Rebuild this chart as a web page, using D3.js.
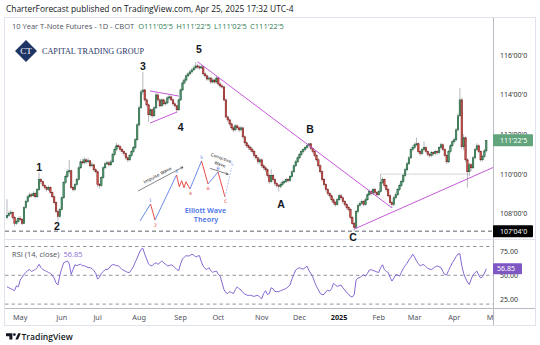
<!DOCTYPE html>
<html>
<head>
<meta charset="utf-8">
<script src="https://cdn.jsdelivr.net/npm/d3@7"></script>
<style>
  html, body { margin: 0; padding: 0; background: #ffffff; }
  svg { display: block; }
</style>
</head>
<body>
<svg id="chart" width="540" height="345"></svg>
<script>
// 10 Year T-Note Futures, daily bars, 22 Apr 2024 - 25 Apr 2025
const open = [
  107.81,107.91,108.01,108.06,107.81,107.51,107.61,107.76,107.71,107.51,
  108.31,108.61,108.86,108.96,108.91,109.02,108.86,109.22,109.72,109.62,
  109.42,109.32,109.22,109.32,109.07,108.86,108.56,108.11,107.86,108.21,
  108.81,109.57,109.87,110.12,110.17,109.32,109.22,109.47,109.72,110.32,
  110.62,110.57,110.72,110.62,110.67,110.42,110.47,110.22,110.12,109.47,
  109.42,109.82,110.32,110.52,110.57,110.47,110.62,110.98,111.23,111.43,
  111.38,111.23,111.13,111.03,110.82,110.72,110.93,111.13,111.33,111.73,
  112.48,113.34,114.14,114.24,113.74,113.49,112.99,113.24,112.94,113.34,
  113.99,113.74,113.44,113.74,113.54,113.59,113.84,113.89,113.74,113.54,
  113.44,113.24,113.74,114.24,114.59,114.74,114.95,115.05,115.15,115.25,
  115.35,115.45,115.40,115.35,115.40,115.05,114.95,114.79,114.84,114.64,
  114.74,114.64,114.84,114.54,114.44,114.39,113.74,112.88,112.73,112.53,
  112.33,112.23,112.43,112.33,112.23,112.33,111.88,111.58,111.43,111.33,
  111.23,111.13,110.93,110.82,110.62,110.72,110.42,110.32,110.22,109.92,
  109.62,109.92,109.72,109.52,109.42,109.37,109.47,109.57,109.62,109.72,
  109.67,109.87,110.12,110.42,110.62,110.82,110.98,111.13,111.23,111.33,
  111.43,111.53,111.28,111.13,110.93,110.72,110.42,110.12,109.72,109.47,
  109.22,109.02,108.91,108.71,108.56,108.46,108.71,108.91,108.81,108.61,
  108.46,108.31,108.21,107.81,107.51,107.31,108.11,108.41,108.51,108.61,
  108.46,108.71,108.96,109.12,109.02,109.22,109.07,108.96,109.12,109.57,
  109.72,109.42,109.22,108.91,108.56,108.46,108.81,108.96,109.22,109.42,
  109.62,109.92,110.22,110.52,110.82,111.23,111.33,111.48,111.53,111.13,
  111.03,111.23,111.33,111.13,110.98,110.93,111.08,111.03,111.13,111.08,
  111.33,111.48,111.23,110.93,110.62,111.13,111.43,111.63,111.73,112.23,
  112.94,113.74,111.38,111.83,110.72,110.12,110.47,110.32,110.82,111.23,
  111.43,111.13,110.72,110.88,111.171875
];
const high = [
  108.74,108.14,108.20,108.12,107.88,107.72,107.85,107.90,107.78,108.38,
  108.70,108.95,109.08,109.05,109.14,109.10,109.30,110.07,109.80,109.68,
  109.50,109.40,109.42,109.38,109.12,108.92,108.62,108.20,108.30,108.88,
  109.65,109.98,110.25,110.72,110.22,109.40,109.55,109.82,110.40,110.75,
  110.78,110.85,110.80,110.82,110.72,110.60,110.52,110.30,110.18,109.55,
  109.90,110.40,110.62,110.68,110.65,110.72,111.08,111.35,111.58,111.52,
  111.45,111.30,111.20,111.10,110.90,111.02,111.22,111.42,111.82,112.58,
  113.45,114.25,115.15,114.30,113.82,113.55,113.32,113.30,113.42,114.10,
  114.05,113.80,113.82,113.80,113.70,113.92,114.00,113.95,113.80,113.62,
  113.50,113.82,114.32,114.70,114.85,115.05,115.15,115.26,115.36,115.46,
  115.65,115.55,115.50,115.50,115.45,115.12,115.02,114.95,114.90,114.85,
  114.80,114.95,114.90,114.62,114.52,114.45,113.80,112.95,112.80,112.60,
  112.42,112.52,112.50,112.40,112.42,112.38,111.95,111.65,111.52,111.42,
  111.32,111.20,111.00,110.90,110.82,110.80,110.50,110.40,110.30,110.00,
  110.25,110.00,109.80,109.60,109.50,109.58,109.68,109.72,109.82,109.80,
  109.95,110.20,110.50,110.72,110.92,111.08,111.22,111.32,111.42,111.50,
  111.55,111.58,111.35,111.20,111.00,110.80,110.50,110.20,109.80,109.55,
  109.30,109.10,108.98,108.80,108.65,108.80,109.02,109.00,108.88,108.70,
  108.55,108.40,108.28,107.88,107.60,108.20,108.50,108.62,108.72,108.68,
  108.80,109.05,109.22,109.20,109.32,109.30,109.15,109.22,110.00,109.85,
  109.78,109.50,109.30,108.98,108.65,108.90,109.08,109.30,109.52,109.72,
  110.02,110.32,110.62,110.92,111.32,111.45,111.60,111.84,111.60,111.20,
  111.32,111.64,111.40,111.20,111.08,111.18,111.15,111.22,111.20,111.42,
  111.58,111.55,111.30,111.00,111.22,111.52,111.72,111.85,112.32,113.05,
  114.34,113.85,112.00,111.90,110.80,110.58,110.55,110.92,111.32,111.55,
  111.50,111.20,110.98,111.28,111.703125
];
const low = [
  107.72,107.84,107.93,107.72,107.36,107.44,107.55,107.62,107.43,107.48,
  108.24,108.55,108.80,108.82,108.85,108.78,108.80,109.15,109.50,109.35,
  109.22,109.12,109.15,109.00,108.78,108.48,108.02,107.61,107.80,108.15,
  108.75,109.50,109.80,110.02,109.25,109.12,109.15,109.40,109.66,110.25,
  110.48,110.50,110.52,110.55,110.33,110.35,110.12,110.02,109.35,109.27,
  109.35,109.75,110.25,110.45,110.38,110.40,110.55,110.90,111.15,111.28,
  111.12,111.02,110.92,110.72,110.60,110.65,110.85,111.05,111.25,111.68,
  112.40,113.28,114.00,113.65,113.38,112.63,112.90,112.82,112.88,113.28,
  113.65,113.35,113.38,113.45,113.45,113.52,113.76,113.66,113.45,113.35,
  113.09,113.18,113.68,114.18,114.52,114.66,114.88,114.98,115.08,115.18,
  115.28,115.30,115.25,115.28,114.95,114.85,114.70,114.70,114.55,114.56,
  114.55,114.56,114.45,114.35,114.30,113.65,112.80,112.62,112.42,112.22,
  112.12,112.15,112.25,112.12,112.15,111.80,111.48,111.32,111.22,111.12,
  111.02,110.82,110.70,110.50,110.52,110.32,110.20,110.10,109.82,109.50,
  109.55,109.62,109.40,109.30,109.12,109.28,109.40,109.50,109.55,109.58,
  109.60,109.80,110.05,110.35,110.55,110.75,110.90,111.05,111.15,111.25,
  111.35,111.20,111.05,110.85,110.62,110.32,110.02,109.62,109.38,109.12,
  108.92,108.80,108.60,108.45,108.35,108.40,108.65,108.72,108.52,108.38,
  108.22,108.12,107.72,107.42,107.125,107.25,108.02,108.35,108.45,108.38,
  108.40,108.65,108.90,108.92,108.95,108.98,108.88,108.90,109.05,109.50,
  109.32,109.12,108.82,108.45,108.30,108.38,108.72,108.90,109.15,109.35,
  109.55,109.85,110.15,110.45,110.75,111.15,111.25,111.40,111.05,110.92,
  110.95,111.15,111.05,110.88,110.82,110.85,110.92,110.95,110.98,111.00,
  111.25,111.15,110.85,110.50,110.55,111.05,111.35,111.55,111.65,112.15,
  112.88,111.25,111.20,110.60,109.32,109.90,110.15,110.25,110.75,111.15,
  111.05,110.62,110.65,110.80,111.078125
];
const close = [
  107.91,108.01,108.06,107.81,107.51,107.61,107.76,107.71,107.51,108.31,
  108.61,108.86,108.96,108.91,109.02,108.86,109.22,109.72,109.62,109.42,
  109.32,109.22,109.32,109.07,108.86,108.56,108.11,107.86,108.21,108.81,
  109.57,109.87,110.12,110.17,109.32,109.22,109.47,109.72,110.32,110.62,
  110.57,110.72,110.62,110.67,110.42,110.47,110.22,110.12,109.47,109.42,
  109.82,110.32,110.52,110.57,110.47,110.62,110.98,111.23,111.43,111.38,
  111.23,111.13,111.03,110.82,110.72,110.93,111.13,111.33,111.73,112.48,
  113.34,114.14,114.24,113.74,113.49,112.99,113.24,112.94,113.34,113.99,
  113.74,113.44,113.74,113.54,113.59,113.84,113.89,113.74,113.54,113.44,
  113.24,113.74,114.24,114.59,114.74,114.95,115.05,115.15,115.25,115.35,
  115.45,115.40,115.35,115.40,115.05,114.95,114.79,114.84,114.64,114.74,
  114.64,114.84,114.54,114.44,114.39,113.74,112.88,112.73,112.53,112.33,
  112.23,112.43,112.33,112.23,112.33,111.88,111.58,111.43,111.33,111.23,
  111.13,110.93,110.82,110.62,110.72,110.42,110.32,110.22,109.92,109.62,
  109.92,109.72,109.52,109.42,109.37,109.47,109.57,109.62,109.72,109.67,
  109.87,110.12,110.42,110.62,110.82,110.98,111.13,111.23,111.33,111.43,
  111.53,111.28,111.13,110.93,110.72,110.42,110.12,109.72,109.47,109.22,
  109.02,108.91,108.71,108.56,108.46,108.71,108.91,108.81,108.61,108.46,
  108.31,108.21,107.81,107.51,107.31,108.11,108.41,108.51,108.61,108.46,
  108.71,108.96,109.12,109.02,109.22,109.07,108.96,109.12,109.57,109.72,
  109.42,109.22,108.91,108.56,108.46,108.81,108.96,109.22,109.42,109.62,
  109.92,110.22,110.52,110.82,111.23,111.33,111.48,111.53,111.13,111.03,
  111.23,111.33,111.13,110.98,110.93,111.08,111.03,111.13,111.08,111.33,
  111.48,111.23,110.93,110.62,111.13,111.43,111.63,111.73,112.23,112.94,
  113.74,111.38,111.83,110.72,110.12,110.47,110.32,110.82,111.23,111.43,
  111.13,110.72,110.88,111.171875,111.703125
];
// RSI (14, close)
const rsi = [
  38,37,36,35,34,39,38,45,48,51,
  53,55,56,54,55,56,58,61.5,58,56,
  55,54,53,52,50,47,42,40,50,57,
  63,64,65,62,51,56,61,60,61,61.5,
  60,60,59,58,58,57,55,52,46,48,
  52,54,56,56,57,60,61,61,60,60,
  58,56,55,54,53,53,56,59,64,68,
  73,77,78,72,67,62,60,60,62,63,
  61.5,63,65,63,61.5,60,60,61,60,58,
  56,55,62,67,69,70.5,70,70.5,72,71,
  69,70,70.5,64,59.5,57,56,58,55,53,
  54,54.4,51,49,42,35,32,31,33,32,
  31,35,38,36,34.7,32,30.5,29.5,29,29.2,
  28.6,28,28.8,29.2,27,25.6,31,34,30,31,
  37,36,33,33,33,34,34.7,35.5,36.5,38,
  40,46,51,55.5,57,57.8,57,56.5,58,59.5,
  55,52,48.5,43,38.5,35,31,30,30,33,
  34.5,33.5,36,41.5,40,38.5,39,40,37,34.7,
  32,30.5,28,27.4,30,45,47.2,47.5,49.5,50.5,
  49,52,55.5,55.8,55,54.4,53.5,53,58,61,
  56,54,53,48,44,47,50.5,50.5,49,53,
  57,60,62.5,66,68.5,72,69,65,62,59.7,
  61,61,59,57,56.5,56,57.5,59,59.7,59,
  58,54,50.7,50.5,55,59,63,66,69.5,72.3,
  72.5,60,52,47,43,40.5,46,50.7,52.5,54.4,
  50,47.2,48.5,52,56.85
];

const firstSession = "2024-04-22";
const exchangeHolidays = ["2024-05-27","2024-06-19","2024-07-04","2024-09-02","2024-11-28",
  "2024-12-25","2025-01-01","2025-01-20","2025-02-17","2025-04-18"];
const monthLabels = ["Jan","Feb","Mar","Apr","May","Jun","Jul","Aug","Sep","Oct","Nov","Dec"];
const priceTicks = [108, 110, 112, 114, 116];
const rsiTicks = [75, 50, 25];
const rsiBands = [80, 50, 20];

// Elliott wave counts on the chart: [label, bar, price]
const waveCounts = [
  ["1", 17, 110.36], ["2", 26.5, 107.39], ["3", 72, 115.45], ["4", 92, 112.37],
  ["5", 101.7, 116.30], ["A", 145.2, 108.49], ["B", 160.6, 112.27], ["C", 183.4, 106.83]
];
// Drawn trend lines: anchor points [bar, price]
const downTrend = [[101, 115.66], [204, 108.30]];
const upTrend = [[184, 107.23], [244, 109.76]];
const pennantUpper = [[75.8, 114.19], [91.1, 113.93]];
const pennantLower = [[75.8, 112.57], [90.1, 113.13]];
const levelRay = [[198, 110.0], [245, 110.0]];

// Idealised Elliott cycle sketch (local units, 0..100)
const impulseLegs = [
  [[0,61],[10.5,44]], [[15,60],[36.5,15]], [[50,29],[61.5,1]], [[68,24],[78,12]]
];
const correctiveLegs = [
  [[10.5,44],[15,60]],
  [[36.5,15],[39.3,26.7],[41.7,20.7],[44,27.7],[46,21.7],[50,29]],
  [[61.5,1],[68,24]], [[78,12],[85,37]]
];
const nextLeg = [[85,37],[91.5,8]];
const sketchLabels = [
  ["1",10.5,40,"#5b7fe8"],["2",15.5,65,"#e53935"],["3",36.5,11.5,"#5b7fe8"],["4",50.5,33.5,"#e53935"],
  ["5",61.5,-2.5,"#5b7fe8"],["A",68,28.5,"#e53935"],["B",78,8.5,"#5b7fe8"],["C",85.5,41.5,"#e53935"],
  ["5",92,4.5,"#9fb4f0"]
];

// ---------- helpers ----------
function tradingDays(start, count) {
  const out = [];
  const d = new Date(start + "T12:00:00Z");
  while (out.length < count) {
    const wd = d.getUTCDay();
    const iso = d.toISOString().slice(0, 10);
    if (wd !== 0 && wd !== 6 && !exchangeHolidays.includes(iso)) out.push(new Date(d));
    d.setUTCDate(d.getUTCDate() + 1);
  }
  return out;
}
// price in points and 32nds (with quarter 32nds), e.g. 111'22'5
function fmt32(p) {
  const whole = Math.floor(p + 1e-9);
  const t = (p - whole) * 32;
  const n = Math.floor(t + 1e-6);
  const q = Math.round((t - n) * 10);
  return whole + "'" + String(n).padStart(2, "0") + "'" + q;
}

const svg = d3.select("#chart");
const N = close.length;
const days = tradingDays(firstSession, N + 6);

const plotL = 5, plotR = 493;
const paneTop = 18, paneBottom = 239;
const rsiTop = 240, rsiBottom = 308;

const x = d3.scaleLinear().domain([0, N - 1]).range([7, 486.3]);
const y = d3.scaleLinear().domain([108, 116]).range([213.8, 55]);
const yr = d3.scaleLinear().domain([20, 80]).range([304.1, 246.5]);

const uiFont = "'Open Sans', 'Noto Sans', sans-serif";

// ---------- frame ----------
svg.append("rect").attr("x", 0).attr("y", 0).attr("width", 540).attr("height", 345).attr("fill", "#fff");
svg.append("text").attr("x", 6).attr("y", 11.5)
  .attr("font-family", uiFont).attr("font-size", 8.4).attr("fill", "#131722")
  .text("CharterForecast published on TradingView.com, Apr 25, 2025 17:32 UTC-4");
svg.append("rect").attr("x", 4.5).attr("y", 17.5).attr("width", 531).attr("height", 308)
  .attr("fill", "none").attr("stroke", "#e0e3eb");

const defs = svg.append("defs");
defs.append("clipPath").attr("id", "pane").append("rect")
  .attr("x", plotL).attr("y", paneTop).attr("width", plotR - plotL).attr("height", paneBottom - paneTop);
defs.append("clipPath").attr("id", "rsiPane").append("rect")
  .attr("x", plotL).attr("y", rsiTop).attr("width", plotR - plotL).attr("height", rsiBottom - rsiTop);
defs.append("clipPath").attr("id", "timeAxis").append("rect")
  .attr("x", plotL).attr("y", rsiBottom).attr("width", plotR - plotL).attr("height", 18);

// axis separators
svg.append("line").attr("x1", plotR + 0.5).attr("x2", plotR + 0.5).attr("y1", 18).attr("y2", 325)
  .attr("stroke", "#b8bbc4").attr("stroke-width", 1);
svg.append("line").attr("x1", plotL).attr("x2", 535).attr("y1", 239.5).attr("y2", 239.5)
  .attr("stroke", "#e0e3eb");
svg.append("line").attr("x1", plotL).attr("x2", 535).attr("y1", rsiBottom + 0.5).attr("y2", rsiBottom + 0.5)
  .attr("stroke", "#b8bbc4");

// ---------- legend line ----------
const last = N - 1;
const legend = svg.append("text").attr("x", 12).attr("y", 28.8)
  .attr("font-family", uiFont).attr("font-size", 7.5).attr("fill", "#50535e");
legend.append("tspan").text("10 Year T-Note Futures - 1D - CBOT");
const ohlcColor = "#2f7d52";
[["O", open[last]], ["H", high[last]], ["L", low[last]], ["C", close[last]]].forEach(([k, v], j) => {
  legend.append("tspan").attr("dx", j === 0 ? 4 : 3.2).attr("fill", ohlcColor).text(k + fmt32(v));
});

// ---------- brand mark ----------
const brand = svg.append("g");
brand.append("rect").attr("x", -7.8).attr("y", -7.8).attr("width", 15.6).attr("height", 15.6)
  .attr("fill", "#1f3566").attr("transform", "translate(26,51) rotate(45)");
brand.append("text").attr("x", 26).attr("y", 54.2).attr("text-anchor", "middle")
  .attr("font-family", "'Liberation Serif', 'DejaVu Serif', serif").attr("font-size", 9)
  .attr("fill", "#ffffff").text("CT");
brand.append("text").attr("x", 42).attr("y", 54)
  .attr("font-family", "'Liberation Serif', 'DejaVu Serif', serif").attr("font-size", 8)
  .attr("textLength", 102).attr("lengthAdjust", "spacingAndGlyphs")
  .attr("fill", "#1f3566").text("CAPITAL TRADING GROUP");

// ---------- price pane ----------
const pane = svg.append("g").attr("clip-path", "url(#pane)");

// swing-low level
const swingLow = d3.min(low);
pane.append("line").attr("x1", plotL).attr("x2", plotR).attr("y1", y(swingLow)).attr("y2", y(swingLow))
  .attr("stroke", "#5d606b").attr("stroke-width", 1).attr("stroke-dasharray", "4,3");

// horizontal ray
pane.append("line").attr("x1", x(levelRay[0][0])).attr("x2", x(levelRay[1][0]))
  .attr("y1", y(levelRay[0][1])).attr("y2", y(levelRay[1][1]))
  .attr("stroke", "#d4d6dc").attr("stroke-width", 1);

const bars = close.map((c, i) => ({ i, o: open[i], h: high[i], l: low[i], c }));
pane.selectAll("line.wick").data(bars).join("line").attr("class", "wick")
  .attr("x1", d => x(d.i)).attr("x2", d => x(d.i))
  .attr("y1", d => y(d.h)).attr("y2", d => y(d.l))
  .attr("stroke", "#9a9ca3").attr("stroke-width", 0.7);
pane.selectAll("rect.body").data(bars).join("rect").attr("class", "body")
  .attr("x", d => x(d.i) - 0.7).attr("width", 1.4)
  .attr("y", d => y(Math.max(d.o, d.c)))
  .attr("height", d => Math.max(0.9, Math.abs(y(d.o) - y(d.c))))
  .attr("fill", d => d.c >= d.o ? "#5f9f7c" : "#d95d54")
  .attr("stroke", d => d.c >= d.o ? "#1b5e38" : "#7c1c1c")
  .attr("stroke-width", 0.6);

// trend lines
const trendColor = "#c659d8";
function extend(a, b, toBar) {
  const slope = (b[1] - a[1]) / (b[0] - a[0]);
  return [a, [toBar, a[1] + slope * (toBar - a[0])]];
}
const lineGen = d3.line().x(d => x(d[0])).y(d => y(d[1]));
[downTrend, extend(upTrend[0], upTrend[1], 262), pennantUpper, pennantLower].forEach(seg => {
  pane.append("path").attr("d", lineGen(seg)).attr("fill", "none")
    .attr("stroke", trendColor).attr("stroke-width", 1);
});

// wave counts
svg.append("g").selectAll("text").data(waveCounts).join("text")
  .attr("x", d => x(d[1])).attr("y", d => y(d[2]))
  .attr("text-anchor", "middle").attr("dominant-baseline", "central")
  .attr("font-family", "'Liberation Sans', Arial, sans-serif").attr("font-weight", "bold")
  .attr("font-size", 10.5).attr("fill", "#131722").text(d => d[0]);

// ---------- Elliott cycle sketch ----------
const sx = d3.scaleLinear().domain([0, 100]).range([140, 240]);
const sy = d3.scaleLinear().domain([0, 100]).range([160, 260]);
const sketch = svg.append("g");
const sLine = d3.line().x(d => sx(d[0])).y(d => sy(d[1]));
impulseLegs.forEach(leg => sketch.append("path").attr("d", sLine(leg)).attr("fill", "none")
  .attr("stroke", "#5b7fe8").attr("stroke-width", 0.9));
correctiveLegs.forEach(leg => sketch.append("path").attr("d", sLine(leg)).attr("fill", "none")
  .attr("stroke", "#e53935").attr("stroke-width", 0.9));
sketch.append("path").attr("d", sLine(nextLeg)).attr("fill", "none")
  .attr("stroke", "#a9bcf2").attr("stroke-width", 0.9).attr("stroke-dasharray", "2,1.2");
sketch.selectAll("text.wl").data(sketchLabels).join("text").attr("class", "wl")
  .attr("x", d => sx(d[1])).attr("y", d => sy(d[2]))
  .attr("text-anchor", "middle").attr("dominant-baseline", "central")
  .attr("font-family", "'DejaVu Sans', sans-serif").attr("font-size", 4.6)
  .attr("fill", d => d[3]).text(d => d[0]);

// arrows with captions
const arrowG = sketch.append("g").attr("stroke", "#333").attr("stroke-width", 0.6).attr("fill", "none");
arrowG.append("path").attr("d", sLine([[-2, 31], [43, 7]]));
arrowG.append("path").attr("d", sLine([[40.3, 7.2], [43, 7], [41.6, 9.3]]));
arrowG.append("path").attr("d", sLine([[70, 8.3], [88.3, 14.3]]));
arrowG.append("path").attr("d", sLine([[85.8, 12.3], [88.3, 14.3], [85.6, 14.9]]));
sketch.append("text").attr("transform", `translate(${sx(18.2)},${sy(16.6)}) rotate(-28)`)
  .attr("text-anchor", "middle").attr("font-family", "'DejaVu Sans', sans-serif")
  .attr("font-size", 4.4).attr("fill", "#222").text("Impulse Wave");
sketch.append("text").attr("transform", `translate(${sx(80.5)},${sy(-0.6)}) rotate(20)`)
  .attr("text-anchor", "middle").attr("font-family", "'DejaVu Sans', sans-serif")
  .attr("font-size", 4.2).attr("fill", "#222").text("Corrective");
sketch.append("text").attr("transform", `translate(${sx(79.5)},${sy(5.6)}) rotate(20)`)
  .attr("text-anchor", "middle").attr("font-family", "'DejaVu Sans', sans-serif")
  .attr("font-size", 4.2).attr("fill", "#222").text("Wave");
sketch.append("text").attr("x", sx(65.5)).attr("y", sy(53))
  .attr("text-anchor", "middle").attr("font-family", "'Noto Sans', sans-serif")
  .attr("font-weight", 600).attr("font-size", 7.2).attr("fill", "#4a72e8").text("Elliott Wave");
sketch.append("text").attr("x", sx(66)).attr("y", sy(62))
  .attr("text-anchor", "middle").attr("font-family", "'Noto Sans', sans-serif")
  .attr("font-weight", 600).attr("font-size", 7.2).attr("fill", "#4a72e8").text("Theory");

// ---------- price axis ----------
const axisFont = "'Noto Sans', 'DejaVu Sans', sans-serif";
svg.append("g").selectAll("text").data(priceTicks).join("text")
  .attr("x", 500).attr("y", d => y(d)).attr("dominant-baseline", "central")
  .attr("font-family", axisFont).attr("font-size", 7).attr("fill", "#333")
  .text(d => fmt32(d));

function axisTag(value, yPos, bg, label) {
  const g = svg.append("g");
  g.append("rect").attr("x", plotR).attr("y", yPos - 6).attr("width", 40).attr("height", 12)
    .attr("rx", 1).attr("fill", bg);
  g.append("text").attr("x", 500).attr("y", yPos).attr("dominant-baseline", "central")
    .attr("font-family", axisFont).attr("font-size", 7).attr("fill", "#fff").text(label);
}
axisTag(swingLow, y(swingLow), "#000000", fmt32(swingLow));
axisTag(close[last], y(close[last]), "#62a57d", fmt32(close[last]));

// ---------- RSI pane ----------
const rsiG = svg.append("g").attr("clip-path", "url(#rsiPane)");
rsiG.selectAll("line.band").data(rsiBands).join("line").attr("class", "band")
  .attr("x1", plotL).attr("x2", plotR).attr("y1", d => yr(d)).attr("y2", d => yr(d))
  .attr("stroke", "#787b86").attr("stroke-width", 0.8).attr("stroke-dasharray", "3.5,3");
rsiG.append("path").datum(rsi)
  .attr("d", d3.line().x((d, i) => x(i)).y(d => yr(d)))
  .attr("fill", "none").attr("stroke", "#7e5fd0").attr("stroke-width", 0.95);

const rsiLegend = svg.append("text").attr("x", 12).attr("y", 256.5)
  .attr("font-family", uiFont).attr("font-size", 7.5).attr("fill", "#50535e");
rsiLegend.append("tspan").text("RSI (14, close)");
rsiLegend.append("tspan").attr("dx", 4).attr("fill", "#8c6fd8").text(d3.format(".2f")(rsi[last]));

svg.append("g").selectAll("text").data(rsiTicks).join("text")
  .attr("x", 500).attr("y", d => yr(d)).attr("dominant-baseline", "central")
  .attr("font-family", axisFont).attr("font-size", 7).attr("fill", "#333")
  .text(d => d3.format(".2f")(d));
const rsiTag = svg.append("g");
rsiTag.append("rect").attr("x", plotR).attr("y", yr(rsi[last]) - 5.5).attr("width", 29).attr("height", 11)
  .attr("rx", 1).attr("fill", "#7e57c2");
rsiTag.append("text").attr("x", 497).attr("y", yr(rsi[last])).attr("dominant-baseline", "central")
  .attr("font-family", axisFont).attr("font-size", 7).attr("fill", "#fff")
  .text(d3.format(".2f")(rsi[last]));

// ---------- time axis ----------
const monthTicks = [];
for (let i = 1; i < days.length; i++) {
  if (days[i].getUTCMonth() !== days[i - 1].getUTCMonth()) {
    const m = days[i].getUTCMonth();
    monthTicks.push({ i, label: m === 0 ? String(days[i].getUTCFullYear()) : monthLabels[m], year: m === 0 });
  }
}
svg.append("g").attr("clip-path", "url(#timeAxis)").selectAll("text").data(monthTicks).join("text")
  .attr("x", d => x(d.i)).attr("y", 320).attr("text-anchor", "middle")
  .attr("font-family", axisFont).attr("font-size", 7.3)
  .attr("font-weight", d => d.year ? "bold" : "normal")
  .attr("fill", d => d.year ? "#131722" : "#50535e").text(d => d.label);

// ---------- footer ----------
const foot = svg.append("g");
foot.append("path").attr("d", "M6,333.2 h6.4 v6.3 h-3 v-3.2 h-3.4 z").attr("fill", "#131722");
foot.append("circle").attr("cx", 14.4).attr("cy", 334.6).attr("r", 1.35).attr("fill", "#131722");
foot.append("path").attr("d", "M15.4,339.5 L18.2,333.2 h2.6 l-2.8,6.3 z").attr("fill", "#131722");
foot.append("text").attr("x", 21.5).attr("y", 339.6)
  .attr("font-family", uiFont).attr("font-size", 8.6).attr("font-weight", 600)
  .attr("fill", "#131722").text("TradingView");
</script>
</body>
</html>
